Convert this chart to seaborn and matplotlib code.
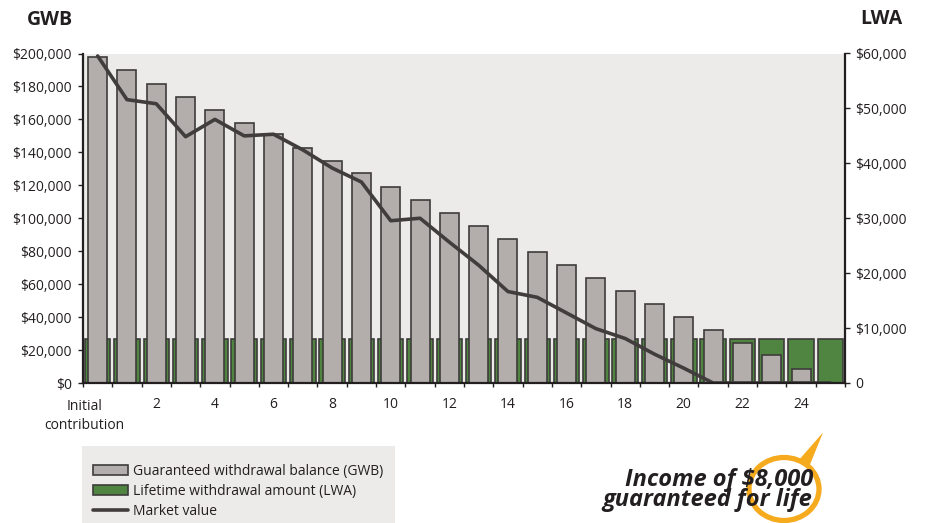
import matplotlib
matplotlib.use("Agg")
import matplotlib.pyplot as plt
from matplotlib.patches import Ellipse, Polygon, Rectangle
from matplotlib.ticker import FuncFormatter
import matplotlib.transforms as mtransforms
import pandas as pd
import seaborn as sns

# ---- data -------------------------------------------------------------
years = list(range(26))
year_labels = ["Initial\ncontribution", "", "2", "", "4", "", "6", "", "8", "",
               "10", "", "12", "", "14", "", "16", "", "18", "", "20", "",
               "22", "", "24", ""]
gwb = [197600, 189900, 181600, 173500, 165800, 157900, 150900, 142700, 134900,
       127200, 119100, 111200, 103100, 95200, 87500, 79500, 71800, 63700,
       55800, 48100, 40000, 32300, 24400, 16800, 8700, 0]
lwa = [8000, 8000, 8000, 8000, 8000, 8000, 8000, 8000, 8000, 8000, 8000, 8000,
       8000, 8000, 8000, 8000, 8000, 8000, 8000, 8000, 8000, 8000, 8000, 8000,
       8000, 8000]
market = [198500, 172000, 169500, 149500, 160000, 150000, 151000, 141500,
          130500, 122000, 98500, 100000, 85500, 71500, 55500, 52000, 42500,
          33000, 27000, 17500, 9000, 0, 0, 0, 0, 0]
gwb_ticks = [0, 20000, 40000, 60000, 80000, 100000, 120000, 140000, 160000,
             180000, 200000]
lwa_ticks = [0, 10000, 20000, 30000, 40000, 50000, 60000]

GWB_LABEL = "Guaranteed withdrawal balance (GWB)"
LWA_LABEL = "Lifetime withdrawal amount (LWA)"
MV_LABEL = "Market value"

df = pd.DataFrame({"year": years, "gwb": gwb, "lwa": lwa, "market": market})

# ---- style ------------------------------------------------------------
DARK = "#231F20"
EDGE = "#3E3C3B"
GRAY = "#B3AEAB"
GREEN = "#4F8540"
PANEL = "#ECEBEA"
LINE = "#403D3C"
ORANGE = "#F6AA1E"

sns.set_style("ticks")
plt.rcParams["font.family"] = ["Open Sans", "DejaVu Sans"]
plt.rcParams["text.color"] = DARK

W, H = 926, 523
fig = plt.figure(figsize=(W / 100, H / 100), dpi=100)
ax = fig.add_axes([83 / W, 140 / H, (845 - 83) / W, (383 - 53.5) / H])
ax2 = ax.twinx()

# lifetime withdrawal amount (right scale) sits behind the balance bars
sns.barplot(data=df, x="year", y="lwa", ax=ax, color=GREEN, saturation=1,
            width=0.87, edgecolor=EDGE, linewidth=1.2, errorbar=None,
            label=LWA_LABEL)
sns.barplot(data=df, x="year", y="gwb", ax=ax2, color=GRAY, saturation=1,
            width=0.65, edgecolor=EDGE, linewidth=1.2, errorbar=None,
            label=GWB_LABEL)
sns.lineplot(data=df, x="year", y="market", ax=ax2, color=LINE,
             linewidth=2.6, label=MV_LABEL)

for a in (ax, ax2):
    if a.get_legend() is not None:
        a.get_legend().remove()
    a.set_xlabel("")
    a.set_ylabel("")

ax.set_facecolor(PANEL)
ax.set_xlim(-0.5, 25.5)
ax.set_ylim(0, 60000)
ax2.set_ylim(0, 200000)

# axes: balance on the left, lifetime amount on the right
ax.yaxis.tick_right()
ax2.yaxis.tick_left()
ax.set_yticks(lwa_ticks)
ax2.set_yticks(gwb_ticks)
ax.yaxis.set_major_formatter(FuncFormatter(lambda v, _: "0" if v == 0 else f"${v:,.0f}"))
ax2.yaxis.set_major_formatter(FuncFormatter(lambda v, _: f"${v:,.0f}"))

# year ticks sit on the bar boundaries, labels in the middle of each year
ax.set_xticks([y - 0.5 for y in years] + [25.5])
ax.set_xticklabels([])
ax.set_xticks(years, minor=True)
ax.set_xticklabels([""] + year_labels[1:], minor=True)
ax.annotate(year_labels[0], xy=(years[0], 0), xycoords=("data", "axes fraction"),
            xytext=(-9.5, -11.5), textcoords="offset points", ha="center", va="top",
            fontsize=10, linespacing=1.35, color=DARK, annotation_clip=False)

ax.tick_params(axis="x", which="major", length=3, width=1, color=DARK, direction="out")
ax.tick_params(axis="x", which="minor", length=0, pad=10, labelsize=10, labelcolor=DARK)
ax.tick_params(axis="y", length=3.6, width=1, color=DARK, pad=4, labelsize=10, labelcolor=DARK)
ax2.tick_params(axis="y", length=3.6, width=1, color=DARK, pad=4.5, labelsize=10, labelcolor=DARK)

for s in ax.spines.values():
    s.set_visible(False)
ax2.spines["top"].set_visible(False)
for side in ("left", "right", "bottom"):
    ax2.spines[side].set_linewidth(1.6)
    ax2.spines[side].set_color(DARK)

# axis titles
fig.text(50 / W, 1 - 20 / H, "GWB", ha="center", va="center", fontsize=14,
         fontweight="bold", color=DARK)
fig.text(881 / W, 1 - 19 / H, "LWA", ha="center", va="center", fontsize=14,
         fontweight="bold", color=DARK)

# legend panel
fig.add_artist(Rectangle((82 / W, 0), (395 - 82) / W, (523 - 446) / H,
                         transform=fig.transFigure, facecolor=PANEL,
                         edgecolor="none", zorder=0))
found = {}
for a in (ax, ax2):
    for h, l in zip(*a.get_legend_handles_labels()):
        found[l] = h
order = [GWB_LABEL, LWA_LABEL, MV_LABEL]
fig.legend([found[l] for l in order], order, loc="upper left",
           bbox_to_anchor=(93 / W, 1 - 464 / H),
           frameon=False, borderpad=0, borderaxespad=0, handlelength=2.5,
           handleheight=0.75, handletextpad=0.35, labelspacing=0.35,
           fontsize=10, labelcolor=DARK)

# call-out
axo = fig.add_axes([0, 0, 1, 1], zorder=5)
axo.set_xlim(0, W)
axo.set_ylim(H, 0)
axo.axis("off")
axo.add_patch(Ellipse((784, 489), 70, 63, fill=False, edgecolor=ORANGE, linewidth=3.8))
axo.add_patch(Polygon([(798, 461), (823, 432.5), (809, 467)], closed=True,
                      facecolor=ORANGE, edgecolor="none"))
callout_font = dict(ha="right", va="baseline", fontsize=17, fontweight="bold",
                    style="italic", family=["Open Sans", "DejaVu Sans"], color=DARK)
axo.text(813, 486, "Income of $8,000", **callout_font)
axo.text(812, 505.5, "guaranteed for life", **callout_font)

fig.savefig("out.png", dpi=100)
